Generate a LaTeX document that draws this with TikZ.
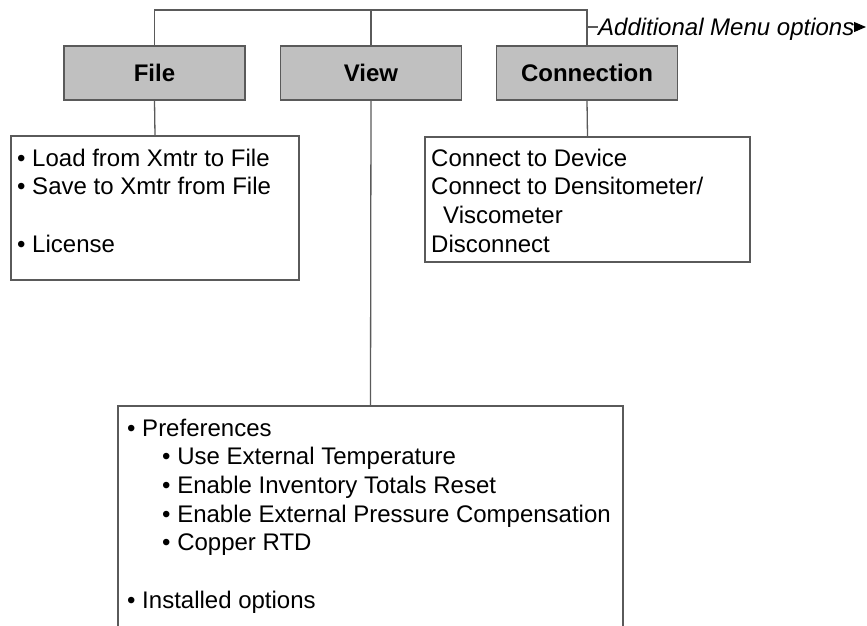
\documentclass[tikz,border=0pt]{standalone}
\usepackage{fontspec}
\setmainfont{Liberation Sans}
\usetikzlibrary{arrows.meta}
\definecolor{linegray}{HTML}{5A5A5A}
\definecolor{boxgray}{HTML}{C0C0C0}
\begin{document}
\begin{tikzpicture}[x=1pt,y=-1pt,
  conn/.style={draw=linegray, line width=1.3pt},
  menubox/.style={rectangle, draw=linegray, line width=1.3pt, fill=boxgray, minimum width=181pt, minimum height=54pt, inner sep=0pt, font=\fontsize{24}{29}\selectfont\bfseries},
  listbox/.style={rectangle, draw=linegray, line width=1.3pt, fill=white, inner sep=0pt},
  item/.style={anchor=base west, inner sep=0pt, font=\fontsize{24}{29}\selectfont}]
\clip (0,0) rectangle (867,625);
% menu boxes
\node[menubox] (file) at (154.5,73) {File};
\node[menubox] (view) at (371,73) {View};
\node[menubox] (conn) at (587,73) {Connection};
\coordinate (top) at (371,10);
\draw[conn] (file.north) |- (top) -| (conn.north);
\draw[conn] (view.north) -- (top);
% additional menu options
\node[item, font=\fontsize{24}{29}\selectfont\itshape] (addl) at (598,35) {Additional Menu options};
\coordinate (dashstart) at (587,27);
\coordinate (arrowtip) at (866,27);
\draw[conn] (dashstart) -- (addl.west |- dashstart);
\draw[line width=1pt, draw=black, -{Triangle[length=12pt,width=10pt]}] ([xshift=-1pt]addl.east |- arrowtip) -- (arrowtip);
% list boxes
\node[listbox, minimum width=288pt, minimum height=144pt] (filelist) at (155,208) {};
\node[listbox, minimum width=325pt, minimum height=125pt] (connlist) at (587.5,199.5) {};
\node[listbox, minimum width=505pt, minimum height=234pt] (viewlist) at (370.5,523) {};
\draw[conn] (file.south) -- (filelist.north);
\draw[conn] (view.south) -- (viewlist.north);
\draw[conn] (conn.south) -- (connlist.north);
% file items
\node[item] (f1) at (17,166) {• Load from Xmtr to File};
\node[item] (f2) at (17,194.7) {• Save to Xmtr from File};
\node[item] (f3) at (17,252.1) {• License};
% connection items
\node[item] (c1) at (431,166) {Connect to Device};
\node[item] (c2) at (431,194.7) {Connect to Densitometer/};
\node[item] (c3) at (443,223.4) {Viscometer};
\node[item] (c4) at (431,252.1) {Disconnect};
% view items
\node[item] (v1) at (127,436) {• Preferences};
\node[item] (v2) at (162,464.7) {• Use External Temperature};
\node[item] (v3) at (162,493.4) {• Enable Inventory Totals Reset};
\node[item] (v4) at (162,522.1) {• Enable External Pressure Compensation};
\node[item] (v5) at (162,550.8) {• Copper RTD};
\node[item] (v6) at (127,608.2) {• Installed options};
\end{tikzpicture}
\end{document}
